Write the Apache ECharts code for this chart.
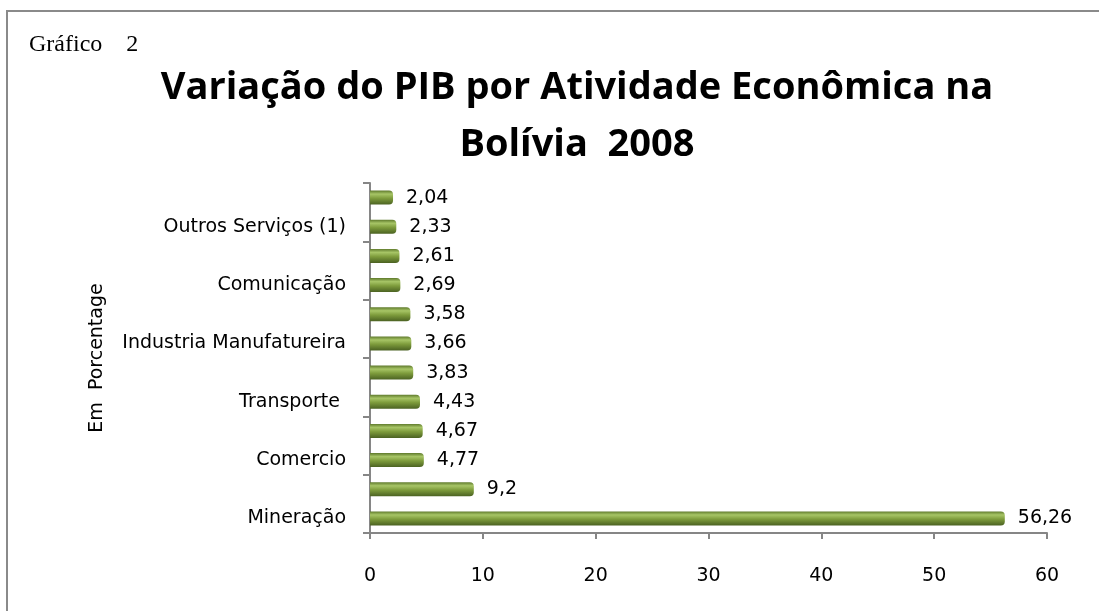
<!DOCTYPE html>
<html>
<head>
<meta charset="utf-8">
<style>
  html, body { margin: 0; padding: 0; background: #fff; }
  #chart { width: 1099px; height: 611px; }
</style>
<script src="https://cdn.jsdelivr.net/npm/echarts@6/dist/echarts.min.js"></script>
</head>
<body>
<div id="chart"></div>
<script>
// categories from the bottom of the chart up; blank ones have no label in the picture
const categories = ['Mineração', '', 'Comercio', '', 'Transporte ', '', 'Industria Manufatureira', '', 'Comunicação', '', 'Outros Serviços (1)', ''];
const values = [56.26, 9.2, 4.77, 4.67, 4.43, 3.83, 3.66, 3.58, 2.69, 2.61, 2.33, 2.04];
const xTicks = [0, 10, 20, 30, 40, 50, 60];

const chart = echarts.init(document.getElementById('chart'));
const axisGray = '#868686';
const font = 'DejaVu Sans';

chart.setOption({
    animation: false,
    backgroundColor: '#fff',
    title: [{
        text: 'Variação do PIB por Atividade Econômica na\nBolívia  2008',
        left: 572,
        top: 55,
        textAlign: 'center',
        textStyle: {fontFamily: 'Open Sans', fontWeight: 'bold', fontSize: 38, color: '#000', lineHeight: 57}
    }, {
        text: 'Gráfico    2',
        left: 24,
        top: 28,
        textStyle: {fontFamily: 'Liberation Serif', fontWeight: 'normal', fontSize: 24, color: '#000'}
    }],
    graphic: [{
        type: 'polyline',
        shape: {points: [[7, 800], [7, 11], [1300, 11]]},
        style: {fill: 'none', stroke: '#8a8a8a', lineWidth: 2}
    }],
    grid: {left: 370, right: 52, top: 183, bottom: 78},
    xAxis: {
        type: 'value',
        min: xTicks[0],
        max: xTicks[xTicks.length - 1],
        interval: 10,
        axisLine: {show: true, lineStyle: {color: axisGray, width: 2}},
        axisTick: {show: true, length: 6, lineStyle: {color: axisGray, width: 2}},
        splitLine: {show: false},
        axisLabel: {margin: 34, fontFamily: font, fontSize: 19, color: '#000'}
    },
    yAxis: {
        type: 'category',
        data: categories,
        name: 'Em  Porcentage',
        nameLocation: 'middle',
        nameGap: 263,
        nameTextStyle: {fontFamily: font, fontSize: 19, color: '#000'},
        axisLine: {show: true, lineStyle: {color: axisGray, width: 2}},
        axisTick: {show: true, length: 7, lineStyle: {color: axisGray, width: 2}},
        axisLabel: {interval: 1, margin: 24, fontFamily: font, fontSize: 19, color: '#000'}
    },
    series: [{
        type: 'bar',
        data: values,
        barWidth: 14,
        itemStyle: {
            borderRadius: [0, 4, 4, 0],
            color: new echarts.graphic.LinearGradient(0, 0, 0, 1, [
                {offset: 0, color: '#5f7a2c'},
                {offset: 0.25, color: '#a7c566'},
                {offset: 0.55, color: '#7e9c3c'},
                {offset: 1, color: '#4b6222'}
            ])
        },
        label: {
            show: true,
            position: 'right',
            distance: 13,
            fontFamily: font,
            fontSize: 19,
            color: '#000',
            formatter: p => String(p.value).replace('.', ',')
        }
    }]
});
</script>
</body>
</html>
